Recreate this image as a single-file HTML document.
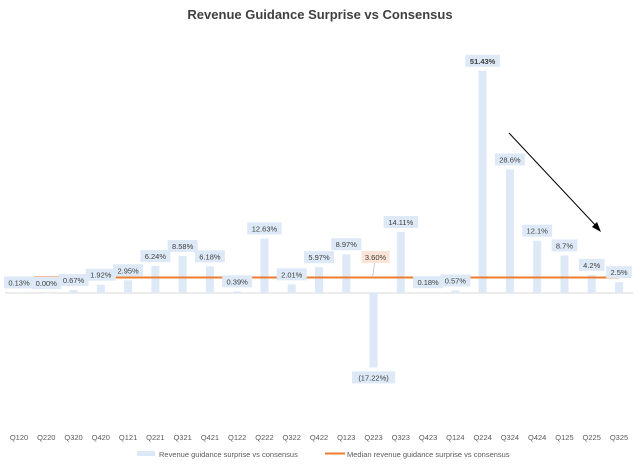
<!DOCTYPE html>
<html><head><meta charset="utf-8"><style>
body{margin:0;background:#fff;font-family:"Liberation Sans",sans-serif}
svg text{font-family:"Liberation Sans",sans-serif}
</style></head><body>
<svg id="c" width="640" height="466" viewBox="0 0 640 466">
<rect width="640" height="466" fill="#fff"/>
<text x="320" y="19" text-anchor="middle" font-size="13" font-weight="bold" fill="#404040">Revenue Guidance Surprise vs Consensus</text>
<g id="bars"></g><g id="median"></g><g id="labels"></g><g id="xt"></g>
<line x1="509" y1="133" x2="598" y2="228" stroke="#000" stroke-width="1"/>
<polygon points="601,232 592,227 597,222" fill="#000"/>
<g>
<rect x="137" y="451" width="18" height="5" fill="#dde9f6"/>
<text x="159" y="457" font-size="7.5" fill="#595959">Revenue guidance surprise vs consensus</text>
<line x1="325" y1="453.5" x2="345" y2="453.5" stroke="#ed7d31" stroke-width="2"/>
<text x="347" y="457" font-size="7.5" fill="#595959">Median revenue guidance surprise vs consensus</text>
</g>
</svg>
<script>
const categories=["Q120","Q220","Q320","Q420","Q121","Q221","Q321","Q421","Q122","Q222","Q322","Q422","Q123","Q223","Q323","Q423","Q124","Q224","Q324","Q424","Q125","Q225","Q325"];
const values=[0.13,0.00,0.67,1.92,2.95,6.24,8.58,6.18,0.39,12.63,2.01,5.97,8.97,-17.22,14.11,0.18,0.57,51.43,28.6,12.1,8.7,4.2,2.5];
const valueLabels=["0.13%","0.00%","0.67%","1.92%","2.95%","6.24%","8.58%","6.18%","0.39%","12.63%","2.01%","5.97%","8.97%","(17.22%)","14.11%","0.18%","0.57%","51.43%","28.6%","12.1%","8.7%","4.2%","2.5%"];
const median=3.6;
const NS="http://www.w3.org/2000/svg";
const x=i=>19+i*(600/(categories.length-1));
const y=v=>293-v*4.32;
function mk(t,a,p){const e=document.createElementNS(NS,t);for(const k in a)e.setAttribute(k,a[k]);p.appendChild(e);return e;}
const bars=document.getElementById('bars'),lab=document.getElementById('labels'),xt=document.getElementById('xt'),med=document.getElementById('median');
const base=mk('line',{x1:5,x2:633,y1:293,y2:293,stroke:'#d9d9d9','stroke-width':1},bars);


categories.forEach((c,i)=>{
 const v=values[i],top=Math.min(y(v),y(0)),h=Math.abs(y(v)-y(0));
 const r=mk('rect',{x:x(i)-4,y:top,width:8,height:Math.max(h,0.5),fill:'#dde9f6'},bars);
 
 
 const t=mk('text',{x:x(i),y:440,'text-anchor':'middle','font-size':'7.5',fill:'#595959'},xt);
 t.textContent=c;
 
 
});
const ml=mk('line',{x1:x(0),x2:x(categories.length-1),y1:y(median),y2:y(median),stroke:'#ed7d31','stroke-width':2},med);


categories.forEach((c,i)=>{
 const v=values[i];
 let cy=v<0?y(v)+10:Math.min(y(v)-10,283);
 const s=valueLabels[i],w=s.length*4.4+8;
 const r=mk('rect',{x:x(i)-w/2,y:cy-6,width:w,height:12,fill:'#dde9f6'},lab);
 
 
 const t=mk('text',{x:x(i),y:cy+3,'text-anchor':'middle','font-size':'7.5',fill:'#404040','font-weight':v>50?'bold':'normal'},lab);
 t.textContent=s;
 
 
});
const mi=13;
const ll=mk('line',{x1:x(mi)+1,y1:263,x2:x(mi)-1,y2:y(median),stroke:'#bfbfbf','stroke-width':0.8},lab);


const mr=mk('rect',{x:x(mi)+2-14,y:251,width:28,height:12,fill:'#fbe3d5'},lab);


const mt=mk('text',{x:x(mi)+2,y:260,'text-anchor':'middle','font-size':'7.5',fill:'#404040'},lab);
mt.textContent=median.toFixed(2)+'%';


</script>
</body></html>
